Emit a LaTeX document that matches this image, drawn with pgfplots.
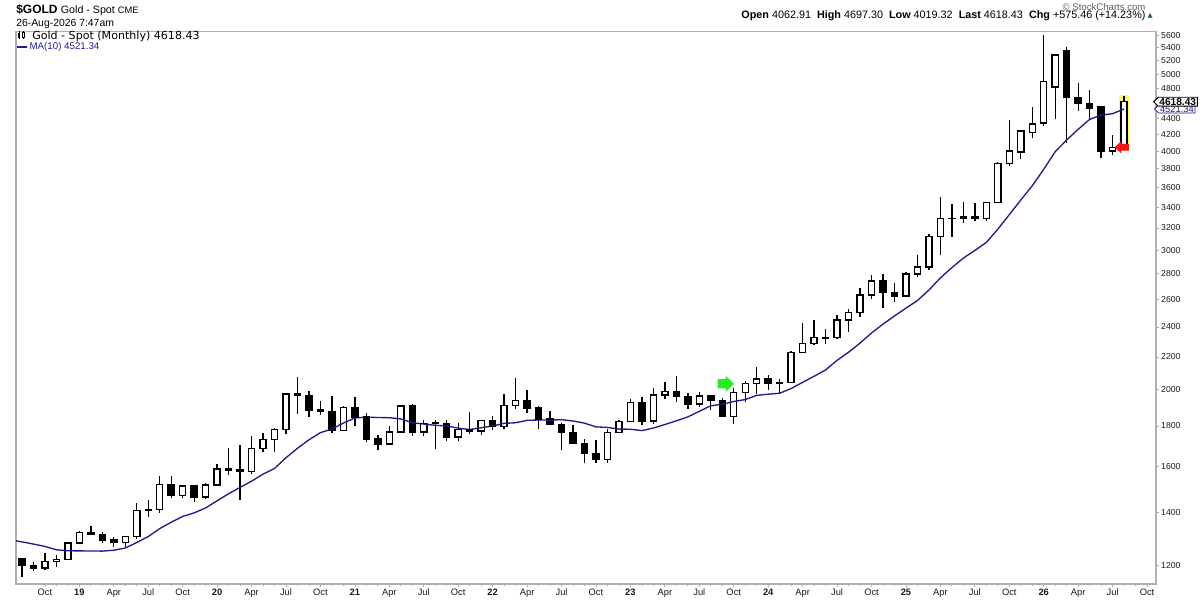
\documentclass[border=0pt]{standalone}
\usepackage{fontspec}
\setmainfont{Liberation Sans}
\newfontfamily\dejavu{DejaVu Sans}
\usepackage{pgfplots}
\usepackage{pgfplotstable}
\pgfplotsset{compat=1.18}
\usetikzlibrary{shapes.symbols}

\definecolor{maline}{RGB}{28,28,140}
\definecolor{hilite}{RGB}{248,248,120}
\definecolor{agreen}{RGB}{40,235,40}
\definecolor{ared}{RGB}{240,20,20}
\definecolor{framec}{RGB}{175,175,175}
\definecolor{txt}{RGB}{25,25,25}
\definecolor{cgray}{RGB}{95,95,95}
\definecolor{upgreen}{RGB}{30,110,30}

\pgfdeclareplotmark{nothing}{}
\pgfdeclareplotmark{rarrow}{%
  \pgfpathmoveto{\pgfqpoint{-6.1pt}{-3.4pt}}%
  \pgfpathlineto{\pgfqpoint{0.1pt}{-3.4pt}}%
  \pgfpathlineto{\pgfqpoint{0.1pt}{-5.9pt}}%
  \pgfpathlineto{\pgfqpoint{6.1pt}{0pt}}%
  \pgfpathlineto{\pgfqpoint{0.1pt}{5.9pt}}%
  \pgfpathlineto{\pgfqpoint{0.1pt}{3.4pt}}%
  \pgfpathlineto{\pgfqpoint{-6.1pt}{3.4pt}}%
  \pgfpathclose\pgfusepathqfill}
\pgfdeclareplotmark{larrow}{%
  \pgfpathmoveto{\pgfqpoint{5.4pt}{-2.5pt}}%
  \pgfpathlineto{\pgfqpoint{-0.4pt}{-2.5pt}}%
  \pgfpathlineto{\pgfqpoint{-0.4pt}{-4.5pt}}%
  \pgfpathlineto{\pgfqpoint{-5.4pt}{0pt}}%
  \pgfpathlineto{\pgfqpoint{-0.4pt}{4.5pt}}%
  \pgfpathlineto{\pgfqpoint{-0.4pt}{2.5pt}}%
  \pgfpathlineto{\pgfqpoint{5.4pt}{2.5pt}}%
  \pgfpathclose\pgfusepathqfill}

% up candles (close > open): i open high low close
\pgfplotstableread{
i o h l c
2 1192 1243 1183 1215
3 1215 1237 1196 1222
4 1222 1284 1221 1282
5 1282 1326 1276 1321
9 1284 1306 1266 1305
10 1305 1439 1298 1409
11 1409 1453 1382 1413
12 1413 1555 1400 1520
14 1472 1518 1459 1513
16 1464 1525 1454 1517
17 1517 1611 1517 1589
20 1577 1747 1567 1686
21 1686 1765 1670 1730
22 1730 1789 1671 1781
23 1781 1984 1757 1975
28 1776 1906 1775 1898
32 1708 1798 1705 1769
33 1769 1913 1766 1907
35 1770 1832 1751 1814
38 1743 1814 1722 1783
40 1774 1831 1753 1829
42 1797 1974 1786 1909
43 1909 2070 1890 1937
51 1634 1786 1617 1768
52 1768 1833 1765 1824
53 1824 1949 1823 1928
55 1826 2009 1810 1969
56 1969 2048 1949 1990
59 1919 1987 1903 1965
62 1849 2009 1810 1983
63 1983 2052 1931 2036
64 2036 2135 1973 2063
66 2039 2065 1984 2044
67 2044 2236 2038 2230
68 2230 2431 2228 2286
69 2286 2450 2277 2327
71 2326 2483 2319 2448
72 2448 2531 2364 2503
73 2503 2685 2471 2635
74 2635 2790 2604 2744
77 2625 2817 2615 2798
78 2798 2956 2772 2858
79 2858 3148 2832 3124
80 3124 3500 2957 3288
81 3288 3435 3121 3289
82 3289 3452 3247 3303
84 3289 3453 3268 3448
85 3448 3871 3436 3858
86 3858 4381 3830 4003
87 3990 4245 3915 4239
88 4220 4550 4150 4330
89 4340 5610 4300 4895
90 4820 5285 4385 5285
95 4000 4196 3950 4043
96 4062.91 4697.30 4019.32 4618.43
}\uptab

% down candles (close <= open)
\pgfplotstableread{
i o h l c
0 1223.6 1224 1160 1201
1 1201 1214 1180 1192
6 1321 1346 1311 1313
7 1313 1324 1281 1292
8 1292 1302 1266 1284
13 1520 1557 1459 1472
15 1513 1516 1445 1464
18 1589 1689 1563 1585
19 1585 1704 1451 1577
24 1975 2075 1863 1968
25 1968 1992 1849 1886
26 1886 1933 1860 1879
27 1879 1965 1764 1776
29 1898 1959 1802 1847
30 1847 1872 1717 1734
31 1734 1755 1677 1708
34 1907 1917 1751 1770
36 1815 1834 1682 1813
37 1814 1834 1721 1743
39 1783 1877 1759 1774
41 1829 1853 1780 1797
44 1937 1998 1872 1897
45 1897 1910 1787 1837
46 1837 1879 1805 1807
47 1807 1814 1681 1766
48 1766 1807 1709 1711
49 1711 1735 1615 1661
50 1661 1730 1617 1634
54 1928 1959 1805 1826
57 1990 2079 1932 1963
58 1963 1983 1893 1919
60 1965 1966 1884 1940
61 1940 1953 1846 1849
65 2063 2088 2001 2039
70 2327 2388 2287 2326
75 2744 2801 2537 2654
76 2654 2726 2583 2625
83 3303 3439 3268 3289
91 5350 5415 4100 4670
92 4665 4880 4500 4596
93 4592 4770 4380 4535
94 4546 4550 3920 4000
}\dntab

% MA(10) of monthly closes
\pgfplotstableread{
i ma
-1 1292.7
0 1285.7
1 1277.4
2 1268.6
3 1256.3
4 1252.7
5 1252.3
6 1252.1
7 1251.5
8 1254.6
9 1262.7
10 1283.5
11 1305.6
12 1336.1
13 1361.1
14 1384.2
15 1398.5
16 1418.9
17 1448.6
18 1478.7
19 1505.9
20 1533.6
21 1565.3
22 1591.4
23 1641.7
24 1687.2
25 1729.4
26 1765.6
27 1784.3
28 1815.6
29 1842.6
30 1847.4
31 1845.2
32 1844.0
33 1837.2
34 1817.4
35 1810.2
36 1803.7
37 1800.4
38 1788.9
39 1781.6
40 1791.1
41 1800.0
42 1814.0
43 1817.0
44 1829.7
45 1832.0
46 1831.3
47 1833.6
48 1826.4
49 1815.1
50 1795.6
51 1792.7
52 1784.2
53 1783.3
54 1776.2
55 1789.4
56 1807.7
57 1827.4
58 1848.2
59 1878.6
60 1909.2
61 1917.3
62 1933.2
63 1944.0
64 1967.7
65 1974.7
66 1980.1
67 2006.8
68 2043.5
69 2079.7
70 2118.3
71 2178.2
72 2230.2
73 2290.1
74 2358.2
75 2419.7
76 2477.8
77 2534.6
78 2591.8
79 2671.5
80 2767.7
81 2851.8
82 2931.8
83 2997.2
84 3067.6
85 3188.0
86 3325.8
87 3469.9
88 3617.1
89 3794.2
90 3993.9
91 4132.0
92 4261.3
93 4385.9
94 4441.1
95 4459.6
96 4521.34
}\matab

\begin{document}
\begin{tikzpicture}
\path[use as bounding box] (0,0) rectangle (900pt,450pt);
\begin{axis}[
  at={(12pt,12pt)}, anchor=south west, scale only axis,
  width=855pt, height=414pt,
  xmin=-0.52, xmax=98.78, ymode=log, ymin=1137.6, ymax=5654,
  axis line style={draw=framec, line width=0.8pt},
  tick align=outside, xtick pos=left, ytick pos=right, yticklabel pos=right,
  major tick length=2.2pt, minor tick length=1.5pt,
  tick style={draw=framec, line width=0.6pt},
  xtick={2,5,...,98}, minor x tick num=2,
  xticklabels={Oct,\textbf{19},Apr,Jul,Oct,\textbf{20},Apr,Jul,Oct,\textbf{21},Apr,Jul,Oct,\textbf{22},Apr,Jul,Oct,\textbf{23},Apr,Jul,Oct,\textbf{24},Apr,Jul,Oct,\textbf{25},Apr,Jul,Oct,\textbf{26},Apr,Jul,Oct},
  ytick={1200,1400,1600,1800,2000,2200,2400,2600,2800,3000,3200,3400,3600,3800,4000,4200,4400,4600,4800,5000,5200,5400,5600},
  yticklabels={1200,1400,1600,1800,2000,2200,2400,2600,2800,3000,3200,3400,3600,3800,4000,4200,4400,4600,4800,5000,5200,5400,5600},
  yminorticks=false,
  yticklabel style={font=\fontsize{6.5}{7}\selectfont, text=txt, inner sep=0pt, xshift=1.5pt},
  xticklabel style={font=\fontsize{7}{8}\selectfont, text=txt, inner sep=0pt, yshift=-1.5pt},
  /pgf/number format/assume math mode=true,
  candle/.style={only marks, mark=nothing, forget plot, error bars/.cd, y dir=plus, y explicit, error mark=none},
]
% highlight behind the current bar
\addplot[candle, error bar style={line width=7.1pt, hilite}] coordinates {(96,3999) += (0,715)};
% wicks
\addplot[candle, error bar style={line width=1pt, black}] table[x=i, y=l, y error plus expr=\thisrow{h}-\thisrow{l}]{\uptab};
\addplot[candle, error bar style={line width=1pt, black}] table[x=i, y=l, y error plus expr=\thisrow{h}-\thisrow{l}]{\dntab};
% up bodies (hollow)
\addplot[candle, error bar style={line width=5.6pt, black}] table[x=i, y=o, y error plus expr=\thisrow{c}-\thisrow{o}]{\uptab};
\addplot[candle, error bar style={line width=3.5pt, white}] table[x=i, y=o, y error plus expr=\thisrow{c}-\thisrow{o}]{\uptab};
\addplot[only marks, mark=-, mark size=2.8pt, mark options={line width=1.05pt, black}, forget plot] table[x=i, y=o]{\uptab};
\addplot[only marks, mark=-, mark size=2.8pt, mark options={line width=1.05pt, black}, forget plot] table[x=i, y=c]{\uptab};
% down bodies (filled)
\addplot[candle, error bar style={line width=5.6pt, black}] table[x=i, y=c, y error plus expr=\thisrow{o}-\thisrow{c}]{\dntab};
\addplot[only marks, mark=-, mark size=2.8pt, mark options={line width=1.05pt, black}, forget plot] table[x=i, y=o]{\dntab};
\addplot[only marks, mark=-, mark size=2.8pt, mark options={line width=1.05pt, black}, forget plot] table[x=i, y=c]{\dntab};
% moving average
\addplot[maline, line width=1pt, mark=none, forget plot] table[x=i, y=ma]{\matab};
% annotation arrows
\addplot[only marks, mark=rarrow, color=agreen, fill=agreen, forget plot] coordinates {(61.3,2035)};
\addplot[only marks, mark=larrow, color=ared, fill=ared, forget plot] coordinates {(95.8,4045)};
\coordinate (tP) at (axis cs:98.78,4618.43);
\coordinate (tM) at (axis cs:98.78,4521.34);
\end{axis}
% price tags
\node[signal, signal to=west, draw=maline, fill=white, text=maline, line width=0.6pt,
  font=\fontsize{7}{8}\selectfont, inner sep=0.6pt, inner xsep=1pt, anchor=west] at ([xshift=-1.5pt]tM) {4521.34};
\node[signal, signal to=west, draw=black, fill=white, text=black, line width=0.7pt,
  font=\fontsize{7.6}{8}\selectfont\bfseries, inner sep=0.6pt, inner xsep=1pt, anchor=west] at ([xshift=-2.2pt]tP) {4618.43};
% legend
\fill[black] (13.4pt,421.6pt) rectangle (15.2pt,425.4pt);
\draw[black, line width=0.4pt] (14.3pt,420.6pt) -- (14.3pt,426.4pt);
\draw[black, line width=0.5pt] (17.6pt,420.6pt) -- (17.6pt,426.6pt);
\draw[black, line width=0.5pt, fill=white] (16.7pt,422.0pt) rectangle (18.5pt,425.8pt);
\node[anchor=west, inner sep=0pt, font=\dejavu\fontsize{8.3}{9}\selectfont] at (24pt,422.8pt) {Gold - Spot (Monthly) 4618.43};
\draw[maline, line width=1.5pt] (13pt,414.6pt) -- (20.5pt,414.6pt);
\node[anchor=west, inner sep=0pt, text=maline, font=\fontsize{7.3}{8}\selectfont] at (22pt,414.6pt) {MA(10) 4521.34};
% header
\node[anchor=base west, inner sep=0pt] at (12pt,439.9pt) {\fontsize{9}{10}\selectfont\bfseries \$GOLD\ \mdseries\fontsize{8}{9}\selectfont Gold - Spot\ \fontsize{7}{8}\selectfont CME};
\node[anchor=base west, inner sep=0pt, font=\fontsize{7.8}{9}\selectfont] at (12pt,430.3pt) {26-Aug-2026 7:47am};
\node[anchor=base east, inner sep=0pt, text=cgray, font=\fontsize{7.2}{8}\selectfont] at (859.3pt,442.1pt) {\textcopyright\ StockCharts.com};
\node[anchor=base east, inner sep=0pt, font=\fontsize{8.1}{9}\selectfont] at (859.3pt,436pt) {\textbf{Open} 4062.91\ \ \textbf{High} 4697.30\ \ \textbf{Low} 4019.32\ \ \textbf{Last} 4618.43\ \ \textbf{Chg} +575.46 (+14.23\%)};
\node[anchor=base west, inner sep=0pt, text=upgreen, font=\dejavu\fontsize{5}{6}\selectfont] at (860.5pt,436.6pt) {▲};
\end{tikzpicture}
\end{document}
